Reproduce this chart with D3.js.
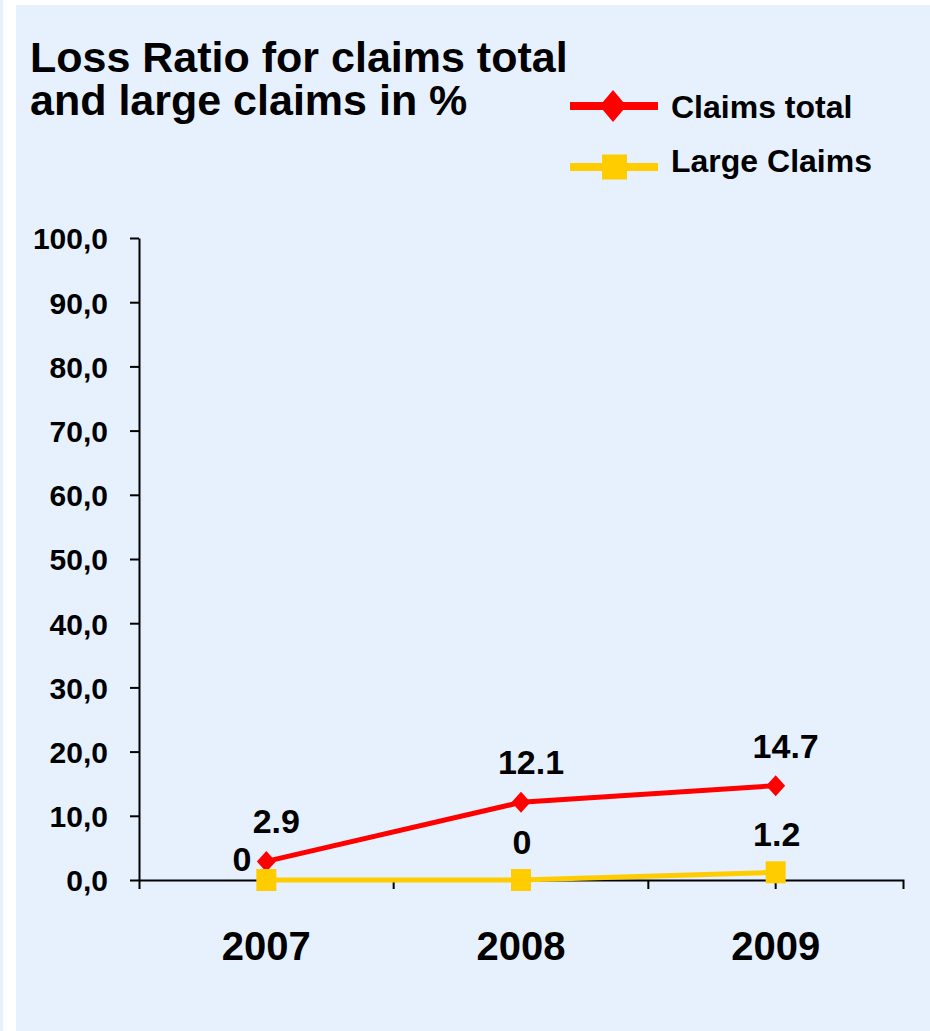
<!DOCTYPE html>
<html>
<head>
<meta charset="utf-8">
<script src="https://cdn.jsdelivr.net/npm/d3@7"></script>
<style>
  html, body { margin: 0; padding: 0; background: #ffffff; }
  svg { display: block; font-family: "Liberation Sans", Arial, sans-serif; font-weight: bold; }
</style>
</head>
<body>
<svg id="chart" width="930" height="1031"></svg>
<script>
// ---- data ----
const categories = ["2007", "2008", "2009"];
const claimsTotal = [2.9, 12.1, 14.7];
const largeClaims = [0, 0, 1.2];
const claimsTotalLabels = ["2.9", "12.1", "14.7"];
const largeClaimsLabels = ["0", "0", "1.2"];
const yTicks = [0, 10, 20, 30, 40, 50, 60, 70, 80, 90, 100];
const titleLines = ["Loss Ratio for claims total", "and large claims in %"];
const legendNames = ["Claims total", "Large Claims"];

// ---- layout ----
const W = 930, H = 1031;
const bg = "#E7F1FD";
const red = "#FF0000", yellow = "#FFCC00";
const plot = { left: 139, right: 903, top: 238, bottom: 880 };

const svg = d3.select("#chart");
svg.append("rect").attr("x", 0).attr("y", 0).attr("width", W).attr("height", H).attr("fill", bg);
svg.append("rect").attr("x", 3).attr("y", 0).attr("width", 13).attr("height", H).attr("fill", "#ffffff");
svg.append("rect").attr("x", 3).attr("y", 0).attr("width", W).attr("height", 5).attr("fill", "#ffffff");

// title
svg.append("g").selectAll("text").data(titleLines).join("text")
  .attr("x", 30).attr("y", (d, i) => 72 + i * 43)
  .attr("font-size", 43).attr("fill", "#000").text(d => d);

// scales
const x = d3.scaleBand().domain(categories).range([plot.left, plot.right]).padding(0);
const y = d3.scaleLinear().domain([0, 100]).range([plot.bottom, plot.top]);

// y axis
const yAxis = d3.axisLeft(y).tickValues(yTicks).tickSize(9).tickSizeOuter(0).tickPadding(22)
  .tickFormat(d => d3.format(".1f")(d).replace(".", ","));
const gy = svg.append("g").attr("transform", `translate(${plot.left},0)`).call(yAxis);
gy.select(".domain").attr("stroke", "#000").attr("stroke-width", 2);
gy.selectAll(".tick line").attr("stroke", "#000").attr("stroke-width", 2);
gy.selectAll(".tick text").attr("font-size", 30).attr("font-family", "Liberation Sans, Arial, sans-serif")
  .attr("font-weight", "bold").attr("fill", "#000").attr("dy", "0.36em");

// x axis
const xAxis = d3.axisBottom(x).tickSize(9).tickSizeOuter(9).tickPadding(0);
const gx = svg.append("g").attr("transform", `translate(0,${plot.bottom})`).call(xAxis);
gx.select(".domain").attr("stroke", "#000").attr("stroke-width", 2);
gx.selectAll(".tick line").attr("stroke", "#000").attr("stroke-width", 2);
gx.selectAll(".tick text").attr("font-size", 40).attr("font-family", "Liberation Sans, Arial, sans-serif")
  .attr("font-weight", "bold").attr("fill", "#000").attr("y", 80).attr("dy", 0);
// boundary ticks between categories
gx.append("g").selectAll("line").data(categories.slice(0, -1)).join("line")
  .attr("x1", d => x(d) + x.bandwidth()).attr("x2", d => x(d) + x.bandwidth())
  .attr("y1", 0).attr("y2", 9).attr("stroke", "#000").attr("stroke-width", 2);

const cx = d => x(d) + x.bandwidth() / 2;

// lines
const line = d3.line().x(d => cx(d[0])).y(d => y(d[1]));
const ctData = categories.map((c, i) => [c, claimsTotal[i]]);
const lcData = categories.map((c, i) => [c, largeClaims[i]]);

svg.append("path").datum(lcData).attr("d", line).attr("fill", "none")
  .attr("stroke", yellow).attr("stroke-width", 5);
svg.append("path").datum(ctData).attr("d", line).attr("fill", "none")
  .attr("stroke", red).attr("stroke-width", 5);

// markers
const diamond = (w, h) => `M0,${-h/2}L${w/2},0L0,${h/2}L${-w/2},0Z`;
svg.append("g").selectAll("path").data(ctData).join("path")
  .attr("transform", d => `translate(${cx(d[0])},${y(d[1])})`)
  .attr("d", diamond(19, 21)).attr("fill", red);
svg.append("g").selectAll("rect").data(lcData).join("rect")
  .attr("x", d => cx(d[0]) - 10).attr("y", d => y(d[1]) - 11)
  .attr("width", 20).attr("height", 22).attr("fill", yellow);

// data labels
svg.append("g").selectAll("text").data(ctData).join("text")
  .attr("x", d => cx(d[0]) + 10).attr("y", d => y(d[1]) - 28)
  .attr("text-anchor", "middle").attr("font-size", 34).attr("fill", "#000")
  .text((d, i) => claimsTotalLabels[i]);
svg.append("g").selectAll("text").data(lcData).join("text")
  .attr("x", (d, i) => i === 0 ? cx(d[0]) - 15 : cx(d[0]) + 1)
  .attr("y", (d, i) => i === 0 ? y(d[1]) - 9 : y(d[1]) - 26)
  .attr("text-anchor", (d, i) => i === 0 ? "end" : "middle")
  .attr("font-size", 34).attr("fill", "#000")
  .text((d, i) => largeClaimsLabels[i]);

// legend
const legend = svg.append("g");
const legY = [106, 167];
const legTextY = [118, 172];
const lg = legend.selectAll("g").data(legendNames).join("g");
lg.append("line").attr("x1", 570).attr("x2", 658).attr("y1", (d, i) => legY[i]).attr("y2", (d, i) => legY[i])
  .attr("stroke", (d, i) => i === 0 ? red : yellow).attr("stroke-width", 8);
lg.filter((d, i) => i === 0).append("path")
  .attr("transform", `translate(613,${legY[0]})`).attr("d", diamond(27, 32)).attr("fill", red);
lg.filter((d, i) => i === 1).append("rect")
  .attr("x", 602).attr("y", legY[1] - 12.5).attr("width", 25).attr("height", 25).attr("fill", yellow);
lg.append("text").attr("x", 671).attr("y", (d, i) => legTextY[i]).attr("font-size", 32).attr("fill", "#000").text(d => d);
</script>
</body>
</html>
